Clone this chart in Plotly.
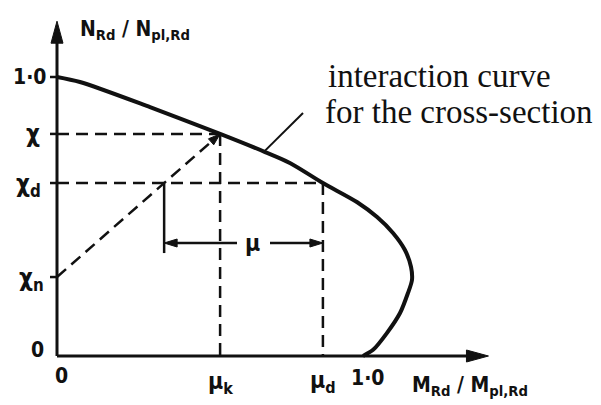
import plotly.graph_objects as go

# ---- data ----
curve_m = [0, 0.075, 0.304, 0.533, 0.680, 0.761, 0.869, 0.980, 1.046, 1.098,
           1.137, 1.157, 1.160, 1.147, 1.121, 1.078, 1.033, 1.0]
curve_n = [1.0, 0.982, 0.892, 0.796, 0.731, 0.692, 0.620, 0.552, 0.498, 0.441,
           0.380, 0.319, 0.272, 0.226, 0.154, 0.082, 0.022, 0]
chi = 0.796
chi_d = 0.620
chi_n = 0.283
mu_k = 0.533
mu_d = 0.869
mu_arrow_level = 0.405
mu_bar_bottom = 0.369
axis_x_end = 1.41
axis_y_end = 1.20
leader_from = (0.680, 0.736)
leader_to = (0.804, 0.871)

# ---- pixel mapping (layout) ----
PAGE_W, PAGE_H = 601, 405
OFF = 8                      # default page margin around the plot div
W, H = PAGE_W - OFF, PAGE_H - OFF
X0, SX = 57, 306.0   # window pixel of m=0, px per unit
Y0, SY = 356, 279.0  # window pixel of n=0, px per unit
def px2x(p): return (p - X0) / SX
def px2y(p): return (Y0 - p) / SY
def dx(p): return p / SX
def dy(p): return p / SY

BLACK = "#111111"
SANS = "Liberation Sans Narrow, Arial Narrow, DejaVu Sans Condensed, Liberation Sans, sans-serif"
SERIF = "Liberation Serif, Times New Roman, serif"

fig = go.Figure()
shapes = []

def line(x0, y0, x1, y1, w=2.5, dash=None):
    d = dict(type="line", xref="x", yref="y", x0=x0, y0=y0, x1=x1, y1=y1,
             line=dict(color=BLACK, width=w))
    if dash:
        d["line"]["dash"] = dash
    shapes.append(d)

def arrowhead(tx, ty, ux, uy, length, half):
    bx, by = -ux * length, -uy * length
    nx, ny = -uy * half, ux * half
    pts = [(0, 0), (bx + nx, by + ny), (bx - nx, by - ny)]
    path = "M " + " L ".join(f"{tx + dx(px)},{ty - dy(py)}" for px, py in pts) + " Z"
    shapes.append(dict(type="path", xref="x", yref="y", path=path,
                       fillcolor=BLACK, line=dict(color=BLACK, width=1)))

DASH = "12px,7px"

# axes
line(0, 0, axis_x_end - dx(10), 0, w=3)
line(0, 0, 0, axis_y_end - dy(10), w=3)
arrowhead(axis_x_end, 0, 1, 0, 22, 6)
arrowhead(0, axis_y_end, 0, -1, 22, 6)

# y ticks
for v in [1.0, chi, chi_d, chi_n]:
    line(-dx(7), v, 0, v, w=2.5)

# dashed construction lines
line(0, chi, mu_k, chi, dash=DASH)
line(mu_k, chi, mu_k, 0, dash=DASH)
line(0, chi_d, mu_d, chi_d, dash=DASH)
line(mu_d, chi_d, mu_d, 0, dash=DASH)
line(0, chi_n, mu_k - dx(6), chi - dy(5.3), dash=DASH)

pdx = mu_k * SX
pdy = -(chi - chi_n) * SY
L = (pdx ** 2 + pdy ** 2) ** 0.5
arrowhead(mu_k, chi, pdx / L, pdy / L, 12, 4)

# mu dimension
x_start = mu_k * (chi_d - chi_n) / (chi - chi_n)
line(x_start, chi_d, x_start, mu_bar_bottom, w=2.5)
line(x_start + dx(8), mu_arrow_level, px2x(237), mu_arrow_level, w=2.5)
line(px2x(270), mu_arrow_level, mu_d - dx(8), mu_arrow_level, w=2.5)
arrowhead(x_start, mu_arrow_level, -1, 0, 13, 4)
arrowhead(mu_d, mu_arrow_level, 1, 0, 13, 4)

# leader line
line(leader_from[0], leader_from[1], leader_to[0], leader_to[1], w=2)

fig.add_trace(go.Scatter(x=curve_m, y=curve_n, mode="lines",
                         line=dict(color=BLACK, width=4, shape="spline", smoothing=0.8),
                         hoverinfo="skip", showlegend=False))

ann = []
def text(t, x, y, size=21, xanchor="center", yanchor="middle", family=SANS, weight="bold"):
    ann.append(dict(text=t, x=x, y=y, xref="x", yref="y", showarrow=False,
                    xanchor=xanchor, yanchor=yanchor,
                    font=dict(family=family, size=size, color=BLACK, weight=weight)))

text("N<sub>Rd</sub> / N<sub>pl,Rd</sub>", px2x(78), px2y(30), xanchor="left")
text("M<sub>Rd</sub> / M<sub>pl,Rd</sub>", px2x(410), px2y(386), xanchor="left")
text("1·0", px2x(48), 1.0, xanchor="right")
text("χ", px2x(42), chi, size=24, xanchor="right")
text("χ<sub>d</sub>", px2x(43), chi_d - dy(2), size=24, xanchor="right")
text("χ<sub>n</sub>", px2x(46), chi_n - dy(2), size=24, xanchor="right")
text("0", px2x(46), px2y(350), xanchor="right")
text("0", px2x(61), px2y(376))
text("μ<sub>k</sub>", mu_k, px2y(383), size=23)
text("μ<sub>d</sub>", mu_d, px2y(382), size=23)
text("1·0", px2x(367), px2y(378))
text("μ", px2x(252), mu_arrow_level, size=23)
text("interaction curve", px2x(326), px2y(76), size=33, xanchor="left",
     family=SERIF, weight="normal")
text("for the cross-section", px2x(323), px2y(112), size=33, xanchor="left",
     family=SERIF, weight="normal")

fig.update_layout(
    width=W, height=H,
    margin=dict(l=0, r=0, t=0, b=0),
    paper_bgcolor="white", plot_bgcolor="white",
    xaxis=dict(visible=False, range=[px2x(OFF), px2x(OFF + W)], fixedrange=True),
    yaxis=dict(visible=False, range=[px2y(OFF + H), px2y(OFF)], fixedrange=True),
    shapes=shapes, annotations=ann, showlegend=False,
)

fig.write_html("out.html")
